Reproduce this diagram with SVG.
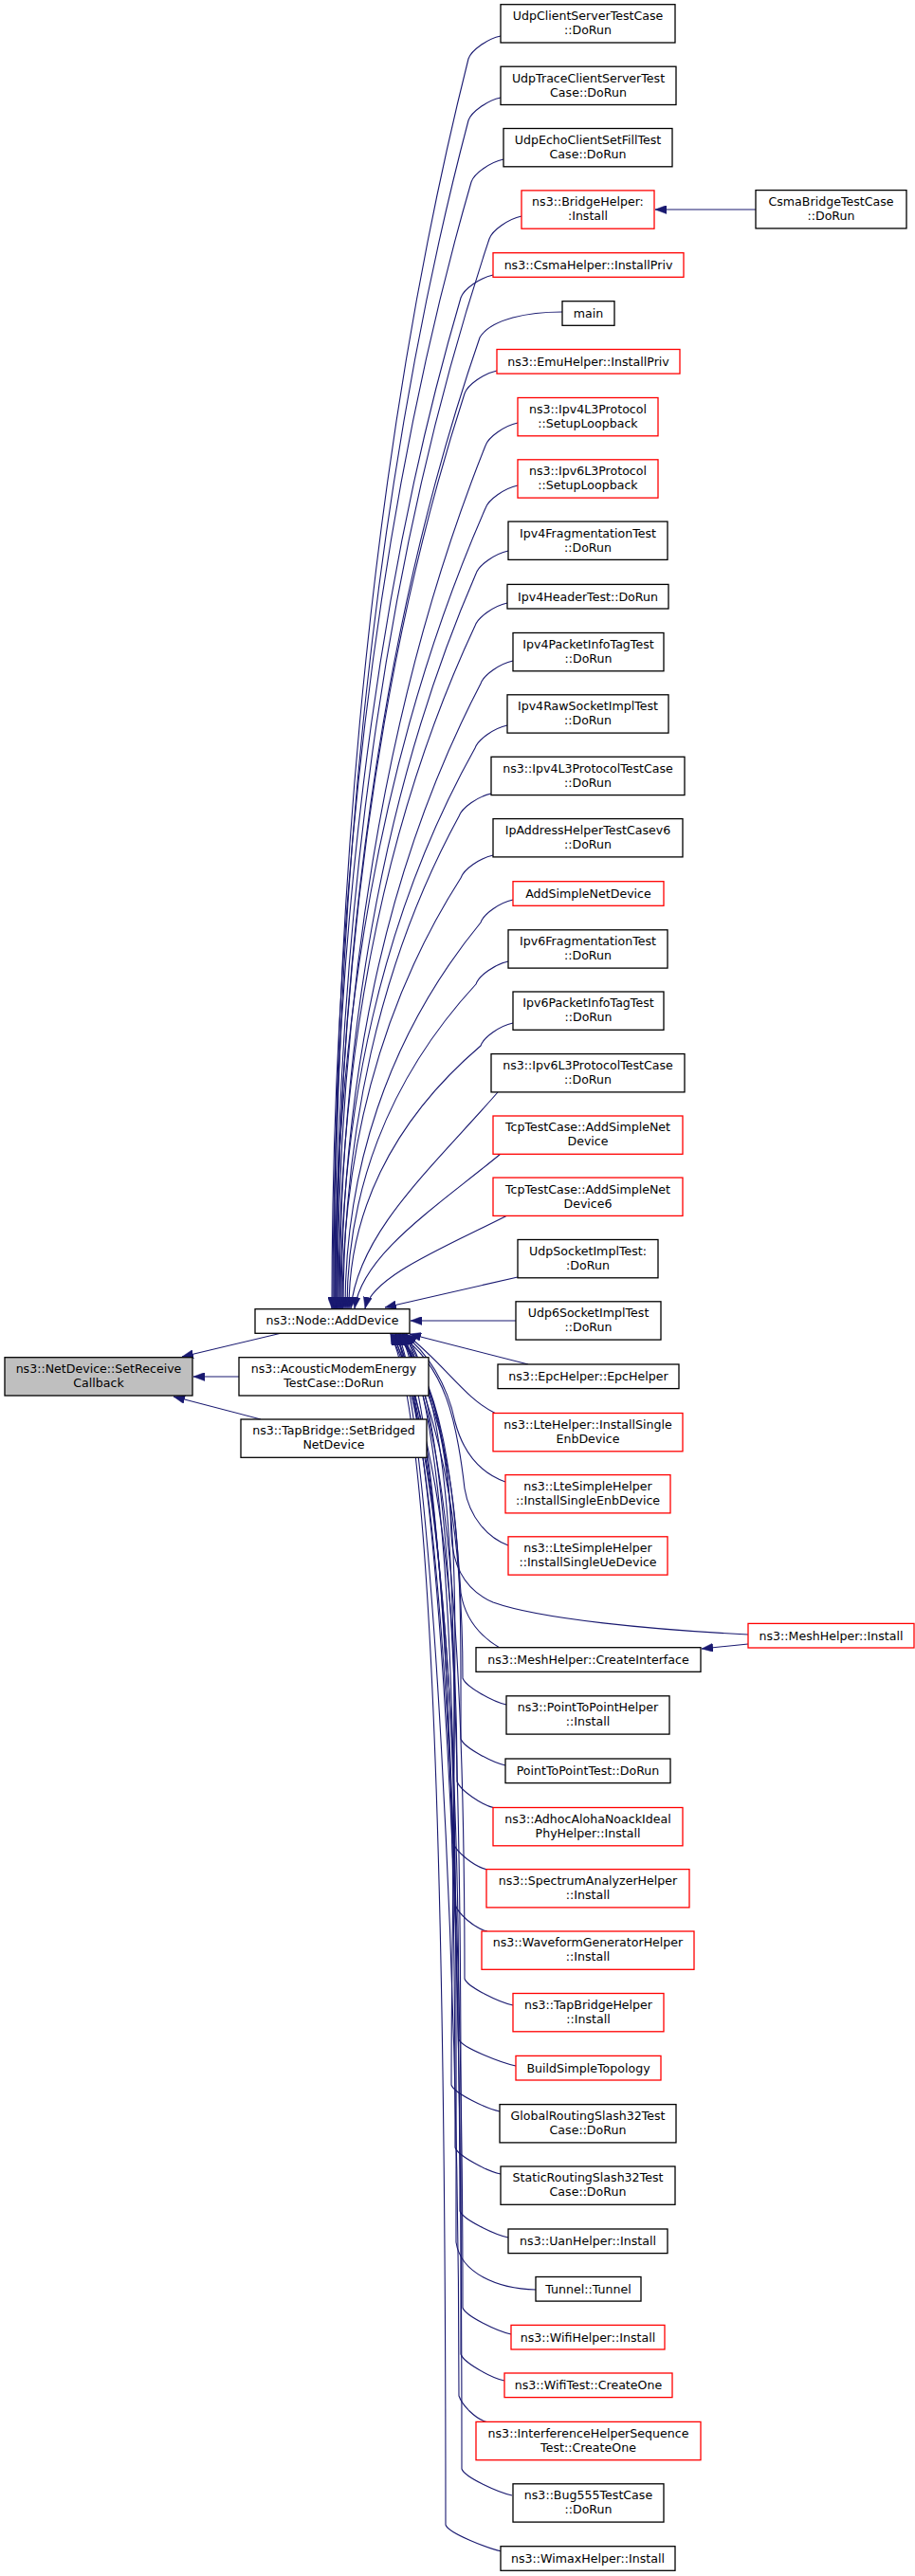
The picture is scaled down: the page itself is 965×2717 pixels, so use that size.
<svg xmlns="http://www.w3.org/2000/svg" width="965" height="2717" viewBox="0 0 965 2717">
<style>
.n rect{fill:#ffffff;stroke:#000000;stroke-width:1.3}
.n.r rect{stroke:#ff0000}
.n.g rect{fill:#bfbfbf}
text{font-family:"DejaVu Sans","Liberation Sans",sans-serif;font-size:12.6px;text-anchor:middle;fill:#000000}
#edges path{fill:none;stroke:#191970;stroke-width:1.1;marker-end:url(#a)}
</style>
<defs>
<marker id="a" markerUnits="userSpaceOnUse" markerWidth="12" markerHeight="9" viewBox="0 0 12 9" refX="12" refY="4.5" orient="auto">
<path d="M0,0 L12,4.5 L0,9 Z" fill="#191970" stroke="#191970" stroke-width="0.5"/>
</marker>
</defs>
<rect x="0" y="0" width="965" height="2717" fill="#ffffff"/>
<g id="edges">
<path d="M528,38 C514,41 497,53 494,62 C395,457 352,919 352,1380"/>
<path d="M528,103 C514,106 497,118 494,127 C395,503 353,942 353,1380"/>
<path d="M531,168 C517,171 500,183 497,192 C394,548 350,964 350,1380"/>
<path d="M550,228 C536,231 519,243 516,252 C403,590 354,985 354,1380"/>
<path d="M520,290 C506,293 489,305 486,314 C392,634 351,1007 351,1380"/>
<path d="M593,329 C558,329 518,336 506,356 C400,663 355,1022 355,1380"/>
<path d="M524,391 C510,394 493,406 490,415 C396,705 355,1042 355,1380"/>
<path d="M546,446 C532,449 515,461 512,470 C403,743 356,1062 356,1380"/>
<path d="M546,512 C532,515 515,527 512,536 C401,789 353,1085 353,1380"/>
<path d="M536,581 C522,584 505,596 502,605 C401,838 358,1109 358,1380"/>
<path d="M535,636 C521,639 504,651 501,660 C400,876 357,1128 357,1380"/>
<path d="M541,697 C527,700 510,712 507,721 C404,919 360,1149 360,1380"/>
<path d="M535,765 C521,768 504,780 501,789 C402,966 359,1173 359,1380"/>
<path d="M518,837 C504,840 487,852 484,861 C399,1017 362,1198 362,1380"/>
<path d="M520,902 C506,905 489,917 486,926 C399,1062 361,1221 361,1380"/>
<path d="M541,949 C527,952 510,964 507,973 C407,1095 364,1238 364,1380"/>
<path d="M536,1014 C522,1017 505,1029 502,1038 C407,1141 366,1260 366,1380"/>
<path d="M541,1079 C527,1082 510,1094 507,1103 C410,1186 368,1283 368,1380"/>
<path d="M525,1152 C455,1232 378,1300 370,1380"/>
<path d="M528,1217 C459,1274 382,1323 374,1380"/>
<path d="M535,1282 C468,1316 393,1346 385,1380"/>
<path d="M546,1347 L406,1379"/>
<path d="M544,1393 L433,1393"/>
<path d="M557,1439 L432,1407"/>
<path d="M523,1491 C490,1475 470,1440 428,1407"/>
<path d="M533,1563 C505,1553 488,1530 480,1500 C472,1460 450,1425 425,1407"/>
<path d="M536,1630 C514,1622 495,1600 490,1570 C482,1500 470,1440 420,1407"/>
<path d="M789,1724 C690,1719 570,1708 520,1690 C492,1678 478,1655 476,1620 C474,1540 462,1450 416,1407"/>
<path d="M527,1738 C505,1725 490,1705 486,1680 C478,1560 465,1450 418,1407"/>
<path d="M534,1798 C520,1795 491,1779 488,1770 C488,1625 470,1516 424,1406.5"/>
<path d="M533,1862 C519,1859 489,1843 486,1834 C486,1663 490,1516 420,1406.5"/>
<path d="M522,1907 C508,1904 485,1888 482,1879 C482,1690 462,1516 414,1406.5"/>
<path d="M514,1972 C500,1969 481,1953 478,1944 C478,1729 495,1516 426,1406.5"/>
<path d="M514,2037 C500,2034 483,2018 480,2009 C480,1768 458,1516 418,1406.5"/>
<path d="M541,2115 C527,2112 493,2096 490,2087 C490,1815 480,1516 422,1406.5"/>
<path d="M544,2179 C530,2176 487,2160 484,2151 C484,1853 466,1516 412,1406.5"/>
<path d="M527,2227 C513,2224 479,2208 476,2199 C476,1882 497,1516 428,1406.5"/>
<path d="M528,2293 C514,2290 483,2274 480,2265 C480,1922 474,1516 416,1406.5"/>
<path d="M536,2360 C522,2357 488,2341 485,2332 C485,1962 460,1516 420,1406.5"/>
<path d="M565,2415 C525,2414 486,2398 481,2365 C481,1982 486,1516 424,1406.5"/>
<path d="M539,2462 C525,2459 491,2443 488,2434 C488,2023 468,1516 414,1406.5"/>
<path d="M532,2511 C518,2508 489,2492 486,2483 C486,2052 492,1516 426,1406.5"/>
<path d="M515,2555 C501,2552 487,2536 484,2527 C484,2079 456,1516 418,1406.5"/>
<path d="M540,2632 C526,2629 490,2613 487,2604 C487,2125 478,1516 422,1406.5"/>
<path d="M529,2691 C515,2688 473,2672 470,2663 C470,2160 463,1516 412,1406.5"/>
<path d="M789,1734 L740,1739"/>
<path d="M797,221 L691,221"/>
<path d="M297,1406 L192,1431"/>
<path d="M252,1452 L204,1452"/>
<path d="M275,1497 L183,1473"/>
</g>
<g id="setreceive" class="n g"><rect x="5" y="1431.7" width="198" height="40.3"/><text x="104" y="1448">ns3::NetDevice::SetReceive</text><text x="104" y="1463">Callback</text></g>
<g id="adddevice" class="n"><rect x="269" y="1380.7" width="163" height="25.6"/><text x="350.5" y="1397.3">ns3::Node::AddDevice</text></g>
<g id="acoustic" class="n"><rect x="252" y="1431.7" width="200" height="40.3"/><text x="352" y="1448">ns3::AcousticModemEnergy</text><text x="352" y="1463">TestCase::DoRun</text></g>
<g id="tapbridge" class="n"><rect x="254" y="1497" width="196" height="40.3"/><text x="352" y="1513.3">ns3::TapBridge::SetBridged</text><text x="352" y="1528.3">NetDevice</text></g>
<g id="csmabridge" class="n"><rect x="797" y="200.6" width="159" height="40.3"/><text x="876.5" y="216.9">CsmaBridgeTestCase</text><text x="876.5" y="231.9">::DoRun</text></g>
<g id="meshinstall" class="n r"><rect x="789" y="1712.4" width="175" height="25.6"/><text x="876.5" y="1729.6">ns3::MeshHelper::Install</text></g>
<g id="n1" class="n"><rect x="528" y="4.7" width="184" height="40.3"/><text x="620" y="21">UdpClientServerTestCase</text><text x="620" y="36">::DoRun</text></g>
<g id="n2" class="n"><rect x="528" y="70.2" width="185" height="40.3"/><text x="620.5" y="86.5">UdpTraceClientServerTest</text><text x="620.5" y="101.5">Case::DoRun</text></g>
<g id="n3" class="n"><rect x="531" y="135.5" width="178" height="40.3"/><text x="620" y="151.9">UdpEchoClientSetFillTest</text><text x="620" y="166.9">Case::DoRun</text></g>
<g id="n4" class="n r"><rect x="550" y="200.9" width="140" height="40.3"/><text x="620" y="217.2">ns3::BridgeHelper:</text><text x="620" y="232.2">:Install</text></g>
<g id="n5" class="n r"><rect x="520" y="266.7" width="201" height="25.6"/><text x="620.5" y="283.9">ns3::CsmaHelper::InstallPriv</text></g>
<g id="n6" class="n"><rect x="593" y="317.7" width="55" height="25.6"/><text x="620.5" y="334.9">main</text></g>
<g id="n7" class="n r"><rect x="524" y="368.5" width="193" height="25.6"/><text x="620.5" y="385.7">ns3::EmuHelper::InstallPriv</text></g>
<g id="n8" class="n r"><rect x="546" y="419.5" width="148" height="40.3"/><text x="620" y="435.9">ns3::Ipv4L3Protocol</text><text x="620" y="450.9">::SetupLoopback</text></g>
<g id="n9" class="n r"><rect x="546" y="484.8" width="148" height="40.3"/><text x="620" y="501.2">ns3::Ipv6L3Protocol</text><text x="620" y="516.2">::SetupLoopback</text></g>
<g id="n10" class="n"><rect x="536" y="550.1" width="168" height="40.3"/><text x="620" y="566.5">Ipv4FragmentationTest</text><text x="620" y="581.5">::DoRun</text></g>
<g id="n11" class="n"><rect x="535" y="616.4" width="170" height="25.6"/><text x="620" y="633.6">Ipv4HeaderTest::DoRun</text></g>
<g id="n12" class="n"><rect x="541" y="667.5" width="159" height="40.3"/><text x="620.5" y="683.9">Ipv4PacketInfoTagTest</text><text x="620.5" y="698.9">::DoRun</text></g>
<g id="n13" class="n"><rect x="535" y="732.8" width="170" height="40.3"/><text x="620" y="749.2">Ipv4RawSocketImplTest</text><text x="620" y="764.2">::DoRun</text></g>
<g id="n14" class="n"><rect x="518" y="798.3" width="204" height="40.3"/><text x="620" y="814.7">ns3::Ipv4L3ProtocolTestCase</text><text x="620" y="829.7">::DoRun</text></g>
<g id="n15" class="n"><rect x="520" y="863.6" width="200" height="40.3"/><text x="620" y="880">IpAddressHelperTestCasev6</text><text x="620" y="895">::DoRun</text></g>
<g id="n16" class="n r"><rect x="541" y="929.7" width="159" height="25.6"/><text x="620.5" y="946.9">AddSimpleNetDevice</text></g>
<g id="n17" class="n"><rect x="536" y="980.8" width="168" height="40.3"/><text x="620" y="997.2">Ipv6FragmentationTest</text><text x="620" y="1012.2">::DoRun</text></g>
<g id="n18" class="n"><rect x="541" y="1046" width="159" height="40.3"/><text x="620.5" y="1062.4">Ipv6PacketInfoTagTest</text><text x="620.5" y="1077.4">::DoRun</text></g>
<g id="n19" class="n"><rect x="518" y="1111.6" width="204" height="40.3"/><text x="620" y="1128">ns3::Ipv6L3ProtocolTestCase</text><text x="620" y="1143">::DoRun</text></g>
<g id="n20" class="n r"><rect x="520" y="1177" width="200" height="40.3"/><text x="620" y="1193.4">TcpTestCase::AddSimpleNet</text><text x="620" y="1208.4">Device</text></g>
<g id="n21" class="n r"><rect x="520" y="1242.1" width="200" height="40.3"/><text x="620" y="1258.5">TcpTestCase::AddSimpleNet</text><text x="620" y="1273.5">Device6</text></g>
<g id="n22" class="n"><rect x="546" y="1307.5" width="148" height="40.3"/><text x="620" y="1323.9">UdpSocketImplTest:</text><text x="620" y="1338.9">:DoRun</text></g>
<g id="n23" class="n"><rect x="544" y="1372.8" width="153" height="40.3"/><text x="620.5" y="1389.2">Udp6SocketImplTest</text><text x="620.5" y="1404.2">::DoRun</text></g>
<g id="n24" class="n"><rect x="525" y="1439" width="191" height="25.6"/><text x="620.5" y="1456.2">ns3::EpcHelper::EpcHelper</text></g>
<g id="n25" class="n r"><rect x="520" y="1490.5" width="200" height="40.3"/><text x="620" y="1506.9">ns3::LteHelper::InstallSingle</text><text x="620" y="1521.9">EnbDevice</text></g>
<g id="n26" class="n r"><rect x="533" y="1555.6" width="174" height="40.3"/><text x="620" y="1572">ns3::LteSimpleHelper</text><text x="620" y="1587">::InstallSingleEnbDevice</text></g>
<g id="n27" class="n r"><rect x="536" y="1620.8" width="168" height="40.3"/><text x="620" y="1637.2">ns3::LteSimpleHelper</text><text x="620" y="1652.2">::InstallSingleUeDevice</text></g>
<g id="n28" class="n"><rect x="502" y="1737.7" width="237" height="25.6"/><text x="620.5" y="1754.9">ns3::MeshHelper::CreateInterface</text></g>
<g id="n29" class="n"><rect x="534" y="1788.8" width="172" height="40.3"/><text x="620" y="1805.2">ns3::PointToPointHelper</text><text x="620" y="1820.2">::Install</text></g>
<g id="n30" class="n"><rect x="533" y="1855" width="174" height="25.6"/><text x="620" y="1872.2">PointToPointTest::DoRun</text></g>
<g id="n31" class="n r"><rect x="520" y="1906.5" width="200" height="40.3"/><text x="620" y="1922.9">ns3::AdhocAlohaNoackIdeal</text><text x="620" y="1937.9">PhyHelper::Install</text></g>
<g id="n32" class="n r"><rect x="513" y="1971.6" width="214" height="40.3"/><text x="620" y="1988">ns3::SpectrumAnalyzerHelper</text><text x="620" y="2003">::Install</text></g>
<g id="n33" class="n r"><rect x="508" y="2037" width="224" height="40.3"/><text x="620" y="2053.4">ns3::WaveformGeneratorHelper</text><text x="620" y="2068.4">::Install</text></g>
<g id="n34" class="n r"><rect x="541" y="2102.5" width="159" height="40.3"/><text x="620.5" y="2118.9">ns3::TapBridgeHelper</text><text x="620.5" y="2133.9">::Install</text></g>
<g id="n35" class="n r"><rect x="544" y="2168.4" width="153" height="25.6"/><text x="620.5" y="2185.6">BuildSimpleTopology</text></g>
<g id="n36" class="n"><rect x="527" y="2219.6" width="186" height="40.3"/><text x="620" y="2236">GlobalRoutingSlash32Test</text><text x="620" y="2251">Case::DoRun</text></g>
<g id="n37" class="n"><rect x="528" y="2285" width="184" height="40.3"/><text x="620" y="2301.4">StaticRoutingSlash32Test</text><text x="620" y="2316.4">Case::DoRun</text></g>
<g id="n38" class="n"><rect x="536" y="2351" width="168" height="25.6"/><text x="620" y="2368.2">ns3::UanHelper::Install</text></g>
<g id="n39" class="n"><rect x="565" y="2401.5" width="111" height="25.6"/><text x="620.5" y="2418.7">Tunnel::Tunnel</text></g>
<g id="n40" class="n r"><rect x="539" y="2452.4" width="162" height="25.6"/><text x="620" y="2469.6">ns3::WifiHelper::Install</text></g>
<g id="n41" class="n r"><rect x="532" y="2503" width="177" height="25.6"/><text x="620.5" y="2520.2">ns3::WifiTest::CreateOne</text></g>
<g id="n42" class="n r"><rect x="502" y="2554.4" width="237" height="40.3"/><text x="620.5" y="2570.7">ns3::InterferenceHelperSequence</text><text x="620.5" y="2585.7">Test::CreateOne</text></g>
<g id="n43" class="n"><rect x="541" y="2619.8" width="159" height="40.3"/><text x="620.5" y="2636.2">ns3::Bug555TestCase</text><text x="620.5" y="2651.2">::DoRun</text></g>
<g id="n44" class="n"><rect x="528" y="2685.7" width="184" height="25.6"/><text x="620" y="2702.9">ns3::WimaxHelper::Install</text></g>
</svg>
